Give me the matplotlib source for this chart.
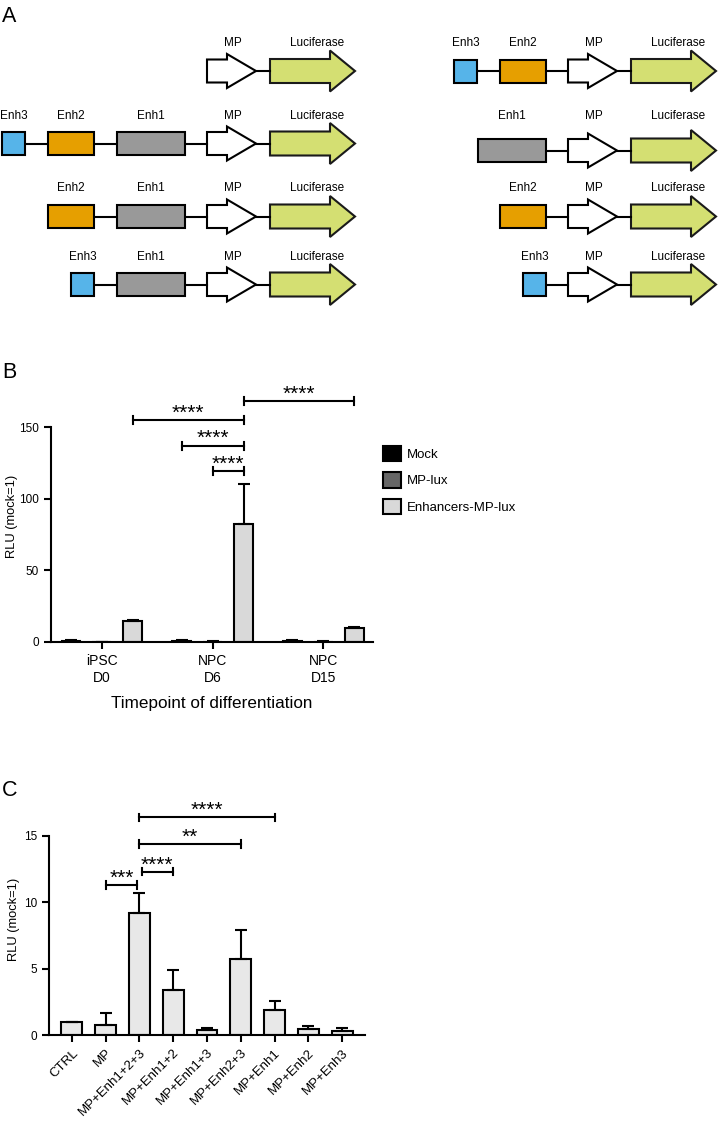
import matplotlib
matplotlib.use('Agg')
import matplotlib.pyplot as plt
from matplotlib.patches import Rectangle, Polygon
import numpy as np

plt.rcParams['font.family'] = ['Liberation Sans', 'DejaVu Sans']

# ---- Panel A: reporter constructs ----
left_constructs = [["MP", "Luciferase"],
                   ["Enh3", "Enh2", "Enh1", "MP", "Luciferase"],
                   ["Enh2", "Enh1", "MP", "Luciferase"],
                   ["Enh3", "Enh1", "MP", "Luciferase"]]
right_constructs = [["Enh3", "Enh2", "MP", "Luciferase"],
                    ["Enh1", "MP", "Luciferase"],
                    ["Enh2", "MP", "Luciferase"],
                    ["Enh3", "MP", "Luciferase"]]

# ---- Panel B ----
timepoints = ["iPSC\nD0", "NPC\nD6", "NPC\nD15"]
series_b = ["Mock", "MP-lux", "Enhancers-MP-lux"]
mock_mean = [1.0, 1.0, 1.0]
mock_err = [0.3, 0.3, 0.3]
mplux_mean = [0.2, 0.3, 0.2]
mplux_err = [0.1, 0.2, 0.2]
enh_mean = [14.5, 82.0, 9.5]
enh_err = [0.8, 28.0, 1.0]
# (group, series) pairs, bracket height, label
sig_b = [((0, 2), (1, 2), 155, "****"),
         ((1, 0), (1, 2), 137, "****"),
         ((1, 1), (1, 2), 119, "****"),
         ((1, 2), (2, 2), 168, "****")]

# ---- Panel C ----
constructs_c = ["CTRL", "MP", "MP+Enh1+2+3", "MP+Enh1+2", "MP+Enh1+3",
                "MP+Enh2+3", "MP+Enh1", "MP+Enh2", "MP+Enh3"]
rlu_c = [1.0, 0.75, 9.2, 3.4, 0.4, 5.75, 1.9, 0.45, 0.3]
err_c = [0.0, 0.9, 1.5, 1.5, 0.15, 2.15, 0.65, 0.2, 0.2]
sig_c = [(1, 2, 11.3, "***"),
         (2, 3, 12.3, "****"),
         (2, 5, 14.4, "**"),
         (2, 6, 16.4, "****")]

W, H = 719, 1125
fig = plt.figure(figsize=(W / 100, H / 100), dpi=100)

# overlay axes in pixel coordinates for diagrams and panel letters
ax0 = fig.add_axes([0, 0, 1, 1])
ax0.set_xlim(0, W)
ax0.set_ylim(H, 0)
ax0.axis('off')

enh_width = {"Enh1": 68, "Enh2": 46, "Enh3": 23}
enh_color = {"Enh1": "#999999", "Enh2": "#E69F00", "Enh3": "#56B4E9"}
lw = 1.5


def draw_construct(ax, names, mp_x, yc, label_y):
    # minimal promoter arrow
    pts = [(mp_x, yc - 11.5), (mp_x + 20, yc - 11.5), (mp_x + 20, yc - 17),
           (mp_x + 49, yc), (mp_x + 20, yc + 17), (mp_x + 20, yc + 11.5),
           (mp_x, yc + 11.5)]
    ax.add_patch(Polygon(pts, closed=True, fc='white', ec='black', lw=lw))
    ax.text(mp_x + 26, label_y, "MP", ha='center', va='center', fontsize=8.5)
    ax.plot([mp_x + 49, mp_x + 63], [yc, yc], color='black', lw=lw)
    # luciferase arrow
    lx = mp_x + 63
    pts = [(lx, yc - 12), (lx + 60, yc - 12), (lx + 60, yc - 20.5),
           (lx + 85, yc), (lx + 60, yc + 20.5), (lx + 60, yc + 12),
           (lx, yc + 12)]
    ax.add_patch(Polygon(pts, closed=True, fc='#D4DF72', ec='#1a1a1a', lw=lw))
    ax.text(lx + 47, label_y, "Luciferase", ha='center', va='center', fontsize=8.5)
    # enhancers, placed right to left
    cursor = mp_x - 22
    nxt = mp_x
    for name in reversed([n for n in names if n.startswith("Enh")]):
        w = enh_width[name]
        left = cursor - w
        ax.plot([cursor, nxt], [yc, yc], color='black', lw=lw, zorder=1)
        ax.add_patch(Rectangle((left, yc - 11.5), w, 23, fc=enh_color[name],
                               ec='black', lw=lw, zorder=2))
        ax.text(left + w / 2, label_y, name, ha='center', va='center', fontsize=8.5)
        nxt = left
        cursor = left - 23


row_y_left = [71, 143.5, 216.5, 284.5]
row_y_right = [71, 150.5, 216.5, 284.5]
label_y = [43, 116, 188, 257]
for i, names in enumerate(left_constructs):
    draw_construct(ax0, names, 207, row_y_left[i], label_y[i])
for i, names in enumerate(right_constructs):
    draw_construct(ax0, names, 568, row_y_right[i], label_y[i])

for letter, (px, py) in zip("ABC", [(2, 16), (2, 372), (2, 791)]):
    ax0.text(px, py, letter, ha='left', va='center', fontsize=15.5)


def style_axes(ax, ytop):
    for s in ['top', 'right']:
        ax.spines[s].set_visible(False)
    for s in ['left', 'bottom']:
        ax.spines[s].set_linewidth(1.5)
    ax.spines['left'].set_bounds(0, ytop)
    ax.tick_params(width=1.5, length=5, labelsize=8.5)
    ax.patch.set_visible(False)


def bracket(ax, x1, x2, y, label, ymax):
    d = 0.016 * ymax
    ax.plot([x1, x2], [y, y], color='black', lw=1.5, clip_on=False)
    ax.plot([x1, x1], [y - d, y + d], color='black', lw=1.5, clip_on=False)
    ax.plot([x2, x2], [y - d, y + d], color='black', lw=1.5, clip_on=False)
    ax.text((x1 + x2) / 2, y + 0.006 * ymax, label, ha='center', va='baseline',
            fontsize=15, clip_on=False)


# ---- Panel B ----
ymax_b = 175
ax_b = fig.add_axes([51 / W, 1 - 642 / H, (373 - 51) / W, ymax_b * 215 / 150 / H])
style_axes(ax_b, 150)
x = np.arange(len(timepoints))
offsets = [-0.28, 0.0, 0.28]
means = [mock_mean, mplux_mean, enh_mean]
errs = [mock_err, mplux_err, enh_err]
colors_b = ['black', '#666666', '#D9D9D9']
handles = []
for k in range(3):
    h = ax_b.bar(x + offsets[k], means[k], width=0.17, color=colors_b[k],
                 edgecolor='black', linewidth=1.5, label=series_b[k], zorder=2)
    handles.append(h)
    ax_b.errorbar(x + offsets[k], means[k], yerr=[np.zeros(3), errs[k]], fmt='none',
                  ecolor='black', elinewidth=1.5, capsize=4.5, capthick=1.5, zorder=3)
ax_b.set_xlim(-0.46, 2.45)
ax_b.set_ylim(0, ymax_b)
ax_b.set_yticks([0, 50, 100, 150])
ax_b.set_xticks(x)
ax_b.set_xticklabels(timepoints, fontsize=10, linespacing=1.3)
ax_b.set_xlabel("Timepoint of differentiation", fontsize=12.3, labelpad=8)
ax_b.set_ylabel("RLU (mock=1)", fontsize=9.3, labelpad=1)
for (g1, s1), (g2, s2), y, lab in sig_b:
    bracket(ax_b, g1 + offsets[s1], g2 + offsets[s2], y, lab, ymax_b)
fig.legend(handles, series_b, loc='upper left', bbox_to_anchor=(383 / W, 1 - 446 / H),
           frameon=False, fontsize=9.5, borderpad=0, borderaxespad=0,
           handlelength=1.4, handleheight=1.4, handletextpad=0.4, labelspacing=0.85)

# ---- Panel C ----
ymax_c = 17.5
ax_c = fig.add_axes([49 / W, 1 - 1035 / H, (365 - 49) / W, ymax_c * 13.27 / H])
style_axes(ax_c, 15)
xc = np.arange(len(constructs_c))
ax_c.bar(xc, rlu_c, width=0.62, color='#E8E8E8', edgecolor='black', linewidth=1.5, zorder=2)
ax_c.errorbar(xc, rlu_c, yerr=[np.zeros(len(xc)), err_c], fmt='none', ecolor='black',
              elinewidth=1.5, capsize=4, capthick=1.5, zorder=3)
ax_c.set_xlim(-0.68, 8.68)
ax_c.set_ylim(0, ymax_c)
ax_c.set_yticks([0, 5, 10, 15])
ax_c.set_xticks(xc)
ax_c.set_xticklabels(constructs_c, fontsize=9.5, rotation=45, ha='right',
                     rotation_mode='anchor')
ax_c.set_ylabel("RLU (mock=1)", fontsize=9.3, labelpad=3)
for i1, i2, y, lab in sig_c:
    s = 0.06 if i2 - i1 == 1 else 0.0
    a = i1 + (s if i1 == 2 else 0)
    b = i2 - (s if i2 == 2 else 0)
    bracket(ax_c, a, b, y, lab, ymax_c)

fig.savefig('out.png', dpi=100)
